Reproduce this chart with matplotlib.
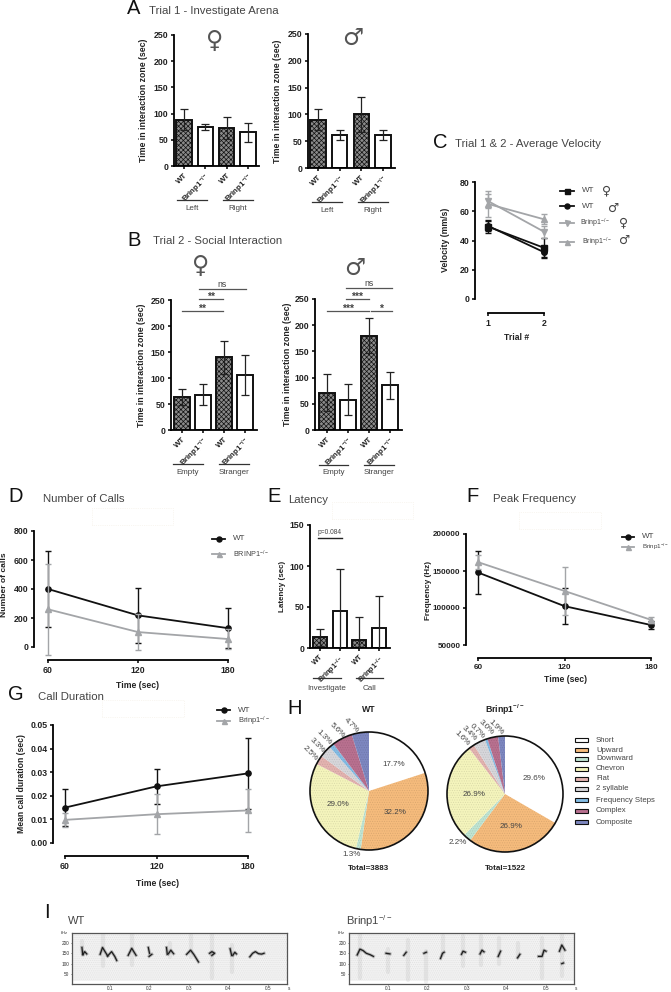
import matplotlib
matplotlib.use('Agg')
import matplotlib.pyplot as plt
from matplotlib.lines import Line2D
from matplotlib.patches import Rectangle, Circle

plt.rcParams['font.family'] = ['Liberation Sans', 'DejaVu Sans']
plt.rcParams['mathtext.fontset'] = 'custom'
plt.rcParams['mathtext.rm'] = 'Liberation Sans'
plt.rcParams['mathtext.bf'] = 'Liberation Sans:bold'
plt.rcParams['mathtext.default'] = 'regular'
plt.rcParams['hatch.linewidth'] = 0.5

W, H = 671, 992
TXT = '#444444'
GREY = '#a3a5a8'
KO = 'Brinp1$^{-/-}$'

# A - investigate arena
a_f_mean = [88, 75, 73, 64]
a_f_err = [20, 6, 21, 19]
a_m_mean = [90, 62, 100, 62]
a_m_err = [20, 9, 33, 9]

# B - social interaction
b_f_mean = [64, 68, 140, 106]
b_f_err = [15, 20, 32, 39]
b_m_mean = [71, 58, 180, 85]
b_m_err = [35, 29, 33, 26]

# C - velocity
trials = [1, 2]
c_wt_f = [49.5, 35]
c_wt_f_err = [4.5, 7]
c_wt_m = [50, 32]
c_wt_m_err = [3.5, 3]
c_ko_f = [67, 46]
c_ko_f_err = [5, 4]
c_ko_m = [65, 54.5]
c_ko_m_err = [9, 3.5]

# D, F, G - time courses
times = [60, 120, 180]
d_wt = [400, 218, 130]
d_wt_err = [260, 190, 140]
d_ko = [260, 103, 55]
d_ko_err = [315, 125, 70]

f_wt = [148000, 102500, 77000]
f_wt_err = [29000, 24500, 5000]
f_ko = [162000, 123000, 84000]
f_ko_err = [9000, 33000, 4000]

g_wt = [0.015, 0.024, 0.0295]
g_wt_err = [0.008, 0.0075, 0.015]
g_ko = [0.0098, 0.0122, 0.0138]
g_ko_err = [0.003, 0.0085, 0.009]

# E - latency
e_mean = [13, 45, 10, 25]
e_err = [10, 51, 28, 38]

call_types = ['Short', 'Upward', 'Downward', 'Chevron', 'Flat', '2 syllable',
              'Frequency Steps', 'Complex', 'Composite']
type_colors = ['#ffffff', '#f5bb7c', '#bfe4d2', '#f4f4bc', '#e3b3b0', '#d6d6da',
               '#84bce4', '#b8708f', '#7d87c0']
wt_sizes = [20.0, 32.2, 1.3, 29.0, 2.5, 3.3, 1.3, 5.6, 4.7]
ko_sizes = [33.3, 26.9, 2.2, 26.9, 1.6, 3.4, 0.7, 3.0, 1.9]

# I - spectrogram traces, (time in s, kHz)
wt_calls = [
    [(.029, 178), (.031, 143)],
    [(.032, 145), (.036, 158), (.041, 147)],
    [(.075, 145), (.081, 178), (.090, 150), (.094, 137)],
    [(.094, 137), (.104, 158), (.112, 135), (.117, 115)],
    [(.146, 140), (.155, 174), (.166, 140)],
    [(.197, 178), (.200, 150)],
    [(.199, 135), (.206, 145)],
    [(.243, 178), (.245, 145)],
    [(.248, 148), (.254, 165), (.261, 148)],
    [(.294, 145), (.304, 165), (.312, 145), (.324, 108)],
    [(.352, 150), (.358, 158), (.365, 150), (.358, 140)],
    [(.404, 172), (.408, 140)],
    [(.411, 140), (.416, 155), (.420, 147)],
    [(.454, 133), (.461, 150), (.468, 158), (.476, 148), (.484, 146), (.490, 150)],
]
wt_streaks = [(.030, 150, 210), (.082, 90, 250), (.155, 95, 245), (.252, 130, 200),
              (.304, 130, 240), (.358, 30, 245), (.410, 60, 190)]
ko_calls = [
    [(.022, 142), (.029, 170), (.037, 163), (.045, 150), (.055, 143), (.063, 135)],
    [(.095, 150), (.105, 147)],
    [(.140, 140), (.146, 155)],
    [(.191, 150), (.197, 155)],
    [(.233, 125), (.238, 150), (.242, 155)],
    [(.286, 145), (.290, 160), (.296, 155)],
    [(.333, 147), (.338, 165), (.343, 157)],
    [(.379, 135), (.385, 160)],
    [(.428, 128), (.434, 145)],
    [(.481, 135), (.490, 135), (.495, 165), (.500, 160)],
    [(.534, 160), (.540, 190), (.548, 165)],
    [(.540, 100), (.544, 103)],
]
ko_streaks = [(.030, 30, 250), (.100, 60, 170), (.150, 20, 215), (.195, 10, 160),
              (.240, 140, 235), (.290, 90, 235), (.335, 95, 235), (.380, 100, 225),
              (.430, 130, 200), (.490, 30, 225), (.540, 40, 250)]

fig = plt.figure(figsize=(W / 100, H / 100), dpi=100)


def fx(x):
    return x / W


def fy(y):
    return 1 - y / H


def txt(x, y, s, size=5.5, color=TXT, ha='center', va='center', **kw):
    fig.text(fx(x), fy(y), s, fontsize=size, color=color, ha=ha, va=va, **kw)


def hline(x0, x1, y, color='#333333', lw=0.9):
    fig.add_artist(Line2D([fx(x0), fx(x1)], [fy(y), fy(y)], color=color, lw=lw))


def make_axes(x0, x1, x_first, x_last, v_first, v_last, y_min_px, y_max_px, ymin, ymax, bottom=None):
    """Axes placed in pixels, with the data ranges worked out so ticks land where they should"""
    if bottom is None:
        bottom = y_min_px
    ax = fig.add_axes([fx(x0), fy(bottom), (x1 - x0) / W, (bottom - y_max_px) / H])
    sx = (v_last - v_first) / (x_last - x_first)
    ax.set_xlim(v_first - (x_first - x0) * sx, v_last + (x1 - x_last) * sx)
    sy = (ymax - ymin) / (y_min_px - y_max_px)
    ax.set_ylim(ymin - (bottom - y_min_px) * sy, ymax)
    ax.spines['top'].set_visible(False)
    ax.spines['right'].set_visible(False)
    ax.spines['left'].set_linewidth(1.3)
    ax.spines['bottom'].set_linewidth(1.3)
    ax.spines['left'].set_bounds(ymin, ymax)
    ax.tick_params(width=1.1, length=2.5, pad=1.5, labelsize=6.3)
    ax.patch.set_alpha(0)
    return ax


def style_ticks(ax):
    for lab in ax.get_xticklabels() + ax.get_yticklabels():
        lab.set_fontweight('bold')
        lab.set_color('#222222')


def bar_panel(x0, x1, first, last, y0, ytop, means, errs, ymax, yticks, ylabel, ylab_x, labsize=6.3, xsize=5.7):
    ax = make_axes(x0, x1, first, last, 1, 4, y0, ytop, 0, ymax)
    pos = [1, 2, 3, 4]
    for p, m, e in zip(pos, means, errs):
        wt = p % 2 == 1
        ax.bar(p, m, width=0.72, facecolor='#8a8a8a' if wt else 'white', edgecolor='#111111',
               linewidth=1.4, hatch='xxxxxxx' if wt else None, zorder=2)
        ax.errorbar(p, m, yerr=e, color='#222222', capsize=2.6, elinewidth=0.9,
                    capthick=0.9, zorder=3)
    ax.set_yticks(yticks)
    ax.set_xticks(pos)
    ax.set_xticklabels(['WT', KO, 'WT', KO], rotation=45, ha='right', rotation_mode='anchor',
                       fontsize=xsize)
    style_ticks(ax)
    txt(ylab_x, (y0 + ytop) / 2, ylabel, size=labsize, color='#222222', rotation=90, fontweight='bold')
    return ax


def line_panel(ax, xs, wt, wt_err, ko, ko_err):
    ax.errorbar(xs, wt, yerr=wt_err, color='#111111', marker='o', ms=3.8, lw=1.3,
                capsize=2, elinewidth=1, capthick=1, zorder=2)
    ax.errorbar(xs, ko, yerr=ko_err, color=GREY, marker='^', ms=3.8, lw=1.3,
                capsize=2, elinewidth=1, capthick=1, zorder=3)
    ax.set_xticks(xs)
    ax.spines['bottom'].set_bounds(xs[0], xs[-1])
    style_ticks(ax)


def key(x0, x1, y, color, marker, label, label_x, size=5.8):
    fig.add_artist(Line2D([fx(x0), fx(x1)], [fy(y), fy(y)], color=color, lw=1.3))
    fig.add_artist(Line2D([fx((x0 + x1) / 2)], [fy(y)], color=color, marker=marker, ms=3.6))
    txt(label_x, y, label, size=size, ha='left')


def faint_box(x0, x1, y0, y1):
    fig.add_artist(Rectangle((fx(x0), fy(y1)), (x1 - x0) / W, (y1 - y0) / H, fill=False,
                             edgecolor='#f3eee4', lw=0.5, ls=':'))


def panel(letter, lx, ly, title, tx, ty):
    txt(lx, ly, letter, size=14.5, color='#111111')
    txt(tx, ty, title, size=8.2, ha='left')


YL = 'Time in interaction zone (sec)'
T250 = [0, 50, 100, 150, 200, 250]

# ---- A ----
panel('A', 134, 9, 'Trial 1 - Investigate Arena', 149, 11)
bar_panel(174, 259, 184, 248, 166, 35, a_f_mean, a_f_err, 250, T250, YL, 144)
bar_panel(308, 395, 318, 383, 168, 34, a_m_mean, a_m_err, 250, T250, YL, 278)
txt(215, 41, '♀', size=17, color='#555555', family='DejaVu Sans')
txt(353, 38, '♂', size=17, color='#555555', family='DejaVu Sans')
for x0, x1, y, lab, lab_y in [(177, 207, 200, 'Left', 208), (223, 253, 200, 'Right', 208),
                              (312, 342, 202, 'Left', 210), (358, 388, 202, 'Right', 210)]:
    hline(x0, x1, y)
    txt((x0 + x1) / 2, lab_y, lab, size=5.8)

# ---- B ----
panel('B', 134, 240, 'Trial 2 - Social Interaction', 153, 241)
bar_panel(171, 257, 182, 245, 430, 300, b_f_mean, b_f_err, 250, T250, YL, 142)
bar_panel(315, 402, 327, 390, 430, 299, b_m_mean, b_m_err, 250, T250, YL, 287)
txt(201, 266, '♀', size=17, color='#555555', family='DejaVu Sans')
txt(355, 268, '♂', size=17, color='#555555', family='DejaVu Sans')
for x0, x1, y, lab, lab_y in [(173, 203, 464, 'Empty', 472), (219, 249, 464, 'Stranger', 472),
                              (319, 348, 465, 'Empty', 473), (364, 394, 465, 'Stranger', 473)]:
    hline(x0, x1, y)
    txt((x0 + x1) / 2, lab_y, lab, size=5.8)
# significance bars: x0, x1, y, text
for x0, x1, y, lab in [(182, 223, 311, '**'), (199, 223, 299, '**'), (199, 246, 289, 'ns'),
                       (327, 369, 311, '***'), (371, 392, 311, '*'), (346, 369, 299, '***'),
                       (346, 392, 288, 'ns')]:
    hline(x0, x1, y, color='#555555')
    if lab == 'ns':
        txt((x0 + x1) / 2, y - 5, lab, size=6.3)
    else:
        txt((x0 + x1) / 2, y - 2.5, lab, size=7.5, fontweight='bold')

# ---- C ----
panel('C', 440, 143, 'Trial 1 & 2 - Average Velocity', 455, 144)
ax_c = make_axes(475, 550, 488, 544, 1, 2, 299, 182, 0, 80, bottom=313)
for vals, errs, col, mk in [(c_wt_f, c_wt_f_err, '#111111', 's'), (c_wt_m, c_wt_m_err, '#111111', 'o'),
                            (c_ko_f, c_ko_f_err, GREY, 'v'), (c_ko_m, c_ko_m_err, GREY, '^')]:
    ax_c.errorbar(trials, vals, yerr=errs, color=col, marker=mk, ms=4, lw=1.3, capsize=2,
                  elinewidth=1, capthick=1)
ax_c.set_yticks([0, 20, 40, 60, 80])
ax_c.set_xticks(trials)
ax_c.spines['bottom'].set_bounds(1, 2)
style_ticks(ax_c)
txt(445, 240, 'Velocity (mm/s)', size=6.3, color='#222222', rotation=90, fontweight='bold')
txt(517, 337, 'Trial #', size=6.2, color='#222222', fontweight='bold')
key(560, 574, 191, '#111111', 's', 'WT', 582)
key(560, 574, 206, '#111111', 'o', 'WT', 582)
key(560, 574, 223, GREY, 'v', KO, 580, size=5)
key(560, 574, 242, GREY, '^', KO, 582, size=5)
txt(607, 191, '♀', size=9, family='DejaVu Sans')
txt(614, 208, '♂', size=9, family='DejaVu Sans')
txt(624, 223, '♀', size=9, family='DejaVu Sans')
txt(625, 240, '♂', size=9, family='DejaVu Sans')

# ---- D ----
panel('D', 16, 497, 'Number of Calls', 43, 499)
faint_box(92, 173, 508, 525)
ax_d = make_axes(34, 240, 48, 228, 60, 180, 647, 531, 0, 800, bottom=660)
line_panel(ax_d, times, d_wt, d_wt_err, d_ko, d_ko_err)
ax_d.set_yticks([0, 200, 400, 600, 800])
style_ticks(ax_d)
txt(5, 585, 'Number of calls', size=6.1, color='#222222', rotation=90, fontweight='bold')
txt(138, 685, 'Time (sec)', size=6.2, color='#222222', fontweight='bold')
key(212, 225, 539, '#111111', 'o', 'WT', 233)
key(212, 225, 554, GREY, '^', 'BRINP1$^{-/-}$', 233, size=5.2)

# ---- E ----
panel('E', 274, 497, 'Latency', 288, 500)
faint_box(332, 413, 502, 519)
ax_e = bar_panel(310, 390, 320, 379, 648, 525, e_mean, e_err, 150, [0, 50, 100, 150],
                 'Latency (sec)', 283, labsize=5.8, xsize=5.3)
hline(318, 342, 538, color='#222222', lw=1)
txt(330, 532, 'p=0.084', size=4.8)
for x0, x1, lab in [(313, 341, 'Investigate'), (356, 383, 'Call')]:
    hline(x0, x1, 678)
    txt((x0 + x1) / 2, 688, lab, size=5.8)

# ---- F ----
panel('F', 473, 497, 'Peak Frequency', 493, 499)
faint_box(519, 601, 512, 529)
ax_f = make_axes(466, 660, 478, 651, 60, 180, 645, 534, 50000, 200000, bottom=658)
line_panel(ax_f, times, f_wt, f_wt_err, f_ko, f_ko_err)
ax_f.set_yticks([50000, 100000, 150000, 200000])
ax_f.tick_params(labelsize=5.8)
style_ticks(ax_f)
txt(428, 590, 'Frequency (Hz)', size=5.9, color='#222222', rotation=90, fontweight='bold')
txt(565, 680, 'Time (sec)', size=6.2, color='#222222', fontweight='bold')
key(622, 634, 537, '#111111', 'o', 'WT', 642)
key(622, 634, 547, GREY, '^', KO, 642, size=4.5)

# ---- G ----
panel('G', 16, 695, 'Call Duration', 38, 697)
faint_box(102, 184, 700, 717)
ax_g = make_axes(53, 258, 65, 248, 60, 180, 843, 725, 0, 0.05, bottom=856)
line_panel(ax_g, times, g_wt, g_wt_err, g_ko, g_ko_err)
ax_g.set_yticks([0, 0.01, 0.02, 0.03, 0.04, 0.05])
ax_g.set_yticklabels(['0.00', '0.01', '0.02', '0.03', '0.04', '0.05'])
style_ticks(ax_g)
txt(22, 784, 'Mean call duration (sec)', size=6.2, color='#222222', rotation=90, fontweight='bold')
txt(157, 884, 'Time (sec)', size=6.2, color='#222222', fontweight='bold')
key(217, 230, 710, '#111111', 'o', 'WT', 238)
key(217, 230, 721, GREY, '^', KO, 238, size=5.4)


# ---- H ----
def pie_panel(cx, cy, r, sizes):
    ax = fig.add_axes([fx(cx - r), fy(cy + r), 2 * r / W, 2 * r / H])
    wedges, _ = ax.pie(sizes, colors=type_colors, startangle=90, counterclock=False, radius=1)
    for i, w in enumerate(wedges):
        w.set_linewidth(0)
        if i > 0:
            w.set_hatch('.......')
            w.set_edgecolor('#00000018')
    ax.add_patch(Circle((0, 0), 1, fill=False, edgecolor='#111111', lw=1.2, clip_on=False))
    ax.set_xlim(-1, 1)
    ax.set_ylim(-1, 1)


txt(295, 708, 'H', size=14.5, color='#111111')
pie_panel(369, 791, 59, wt_sizes)
pie_panel(505, 794, 58, ko_sizes)
txt(369, 710, 'WT', size=6.3, color='#222222', fontweight='bold')
txt(505, 710, KO, size=6.3, color='#222222', fontweight='bold')
txt(369, 868, 'Total=3883', size=5.8, color='#222222', fontweight='bold')
txt(505, 868, 'Total=1522', size=5.8, color='#222222', fontweight='bold')
for x, y, s in [(394, 764, '17.7%'), (395, 813, '32.2%'), (338, 804, '29.0%'), (352, 854, '1.3%'),
                (534, 778, '29.6%'), (511, 826, '26.9%'), (474, 795, '26.9%'), (458, 842, '2.2%')]:
    txt(x, y, s, size=5.8)
for x, y, s in [(310, 753, '2.5%'), (317, 745, '3.3%'), (324, 737, '1.3%'), (337, 730, '5.6%'),
                (351, 725, '4.7%'), (462, 738, '1.6%'), (469, 733, '3.4%'), (477, 731, '0.7%'),
                (486, 727, '3.0%'), (496, 727, '1.9%')]:
    txt(x, y, s, size=5.8, rotation=-45)
legend_y = [740, 750, 759, 769, 779, 789, 800, 811, 822]
for name, col, y in zip(call_types, type_colors, legend_y):
    fig.add_artist(Rectangle((fx(575), fy(y + 2)), 13 / W, 4 / H, facecolor=col,
                             edgecolor='#111111', lw=0.8))
    txt(596, y, name, size=5.6, ha='left')


# ---- I ----
def spectrogram(x0, x1, t_zero_px, calls, streaks):
    # 39.5 px per 0.1 s and 0.2067 px per kHz, as in the reference
    ax = fig.add_axes([fx(x0), fy(984), (x1 - x0) / W, 51 / H])
    ax.set_xlim((x0 - t_zero_px) / 395, (x1 - t_zero_px) / 395)
    ax.set_ylim(1.6, 248)
    ax.add_patch(Rectangle((0, 0), 1, 1, transform=ax.transAxes, facecolor='#f2f2f2',
                           edgecolor='#e2e2e2', hatch='........', lw=0))
    ax.axhspan(1.6, 16, color='white', zorder=1)
    for t, f0, f1 in streaks:
        ax.plot([t, t], [f0, f1], color='#888888', alpha=0.12, lw=3, solid_capstyle='round', zorder=2)
    for c in calls:
        xs = [p[0] for p in c]
        ys = [p[1] for p in c]
        ax.plot(xs, ys, color='#555555', alpha=0.4, lw=2.2, zorder=3)
        ax.plot(xs, ys, color='#1c1c1c', lw=0.9, zorder=4)
    ax.set_xticks([0.1, 0.2, 0.3, 0.4, 0.5])
    ax.set_yticks([50, 100, 150, 200])
    ax.tick_params(labelsize=3.4, length=1, width=0.4, pad=0.8, labelcolor='#333333')
    for s in ax.spines.values():
        s.set_linewidth(0.9)
        s.set_color('#555555')
    txt(x0 - 8, 933, 'kHz', size=3, color='#333333')
    txt(x1 + 2, 988, 's', size=3.4, color='#333333')


txt(47, 912, 'I', size=14.5, color='#111111')
txt(68, 921, 'WT', size=8, ha='left')
txt(346, 921, 'Brinp1$^{-/-}$', size=8, ha='left')
spectrogram(72, 287, 70.5, wt_calls, wt_streaks)
spectrogram(349, 574, 348.5, ko_calls, ko_streaks)

fig.savefig('out.png', dpi=100)
